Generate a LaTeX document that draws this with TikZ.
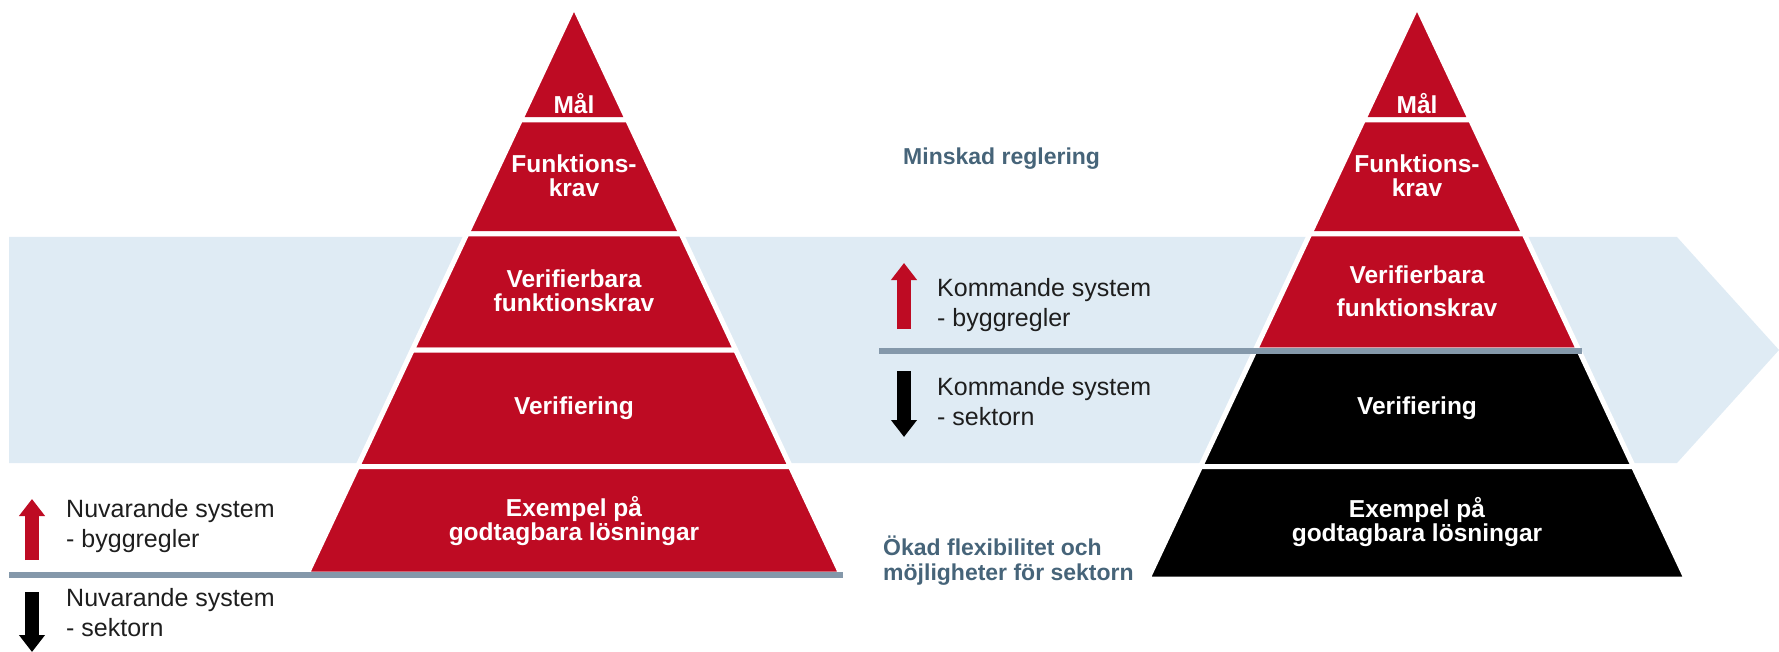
\documentclass[tikz,border=0pt]{standalone}
\usepackage{fontspec}
\setmainfont{Liberation Sans}
\usetikzlibrary{arrows.meta}
\definecolor{sbred}{HTML}{BE0B23}
\definecolor{bandblue}{HTML}{DFEBF4}
\definecolor{linegray}{HTML}{8498AA}
\definecolor{noteblue}{HTML}{466479}
\definecolor{txtgray}{HTML}{1E1E1E}

\begin{document}
\begin{tikzpicture}[x=1pt, y=-1pt,
  redband/.style={fill=sbred, draw=white, line width=5pt, line join=round},
  blackband/.style={fill=black, draw=white, line width=5pt, line join=round},
  grayline/.style={draw=linegray, line width=6pt},
  lvl/.style={text=white, font=\fontsize{24.5}{24}\selectfont\bfseries, align=center, inner sep=0pt},
  legend/.style={text=txtgray, font=\fontsize{25}{30}\selectfont, align=left, inner sep=0pt, anchor=west},
  note/.style={text=noteblue, font=\fontsize{23}{25}\selectfont\bfseries, align=left, inner sep=0pt, anchor=west},
  uparrow/.style={-{Triangle[length=17pt,width=25pt]}, line width=14pt, sbred},
  downarrow/.style={-{Triangle[length=17pt,width=25pt]}, line width=14pt, black}]
  \useasboundingbox (0,0) rectangle (1779,652);

  % Blue band (arrow to the right)
  \fill[bandblue] (9,237) -- (1677,237) -- (1779,350) -- (1677,463) -- (9,463) -- cycle;

  % Left pyramid
  \filldraw[redband] (574,6) -- (627.6,120) -- (520.4,120) -- cycle;                       % Mål
  \filldraw[redband] (520.4,120) -- (627.6,120) -- (681.2,234) -- (466.8,234) -- cycle;   % Funktionskrav
  \filldraw[redband] (466.8,234) -- (681.2,234) -- (735.7,350) -- (412.3,350) -- cycle;   % Verifierbara
  \filldraw[redband] (412.3,350) -- (735.7,350) -- (790.4,466.5) -- (357.6,466.5) -- cycle; % Verifiering
  \filldraw[redband] (357.6,466.5) -- (790.4,466.5) -- (841,574) -- (307,574) -- cycle;   % Exempel

  % Right pyramid
  \filldraw[redband] (1417,6) -- (1470.6,120) -- (1363.4,120) -- cycle;
  \filldraw[redband] (1363.4,120) -- (1470.6,120) -- (1524.2,234) -- (1309.8,234) -- cycle;
  \filldraw[redband] (1309.8,234) -- (1524.2,234) -- (1578.7,350) -- (1255.3,350) -- cycle;
  \filldraw[blackband] (1255.3,350) -- (1578.7,350) -- (1633.4,466.5) -- (1200.6,466.5) -- cycle;
  \filldraw[blackband] (1200.6,466.5) -- (1633.4,466.5) -- (1686.3,579) -- (1147.7,579) -- cycle;

  % Gray lines
  \draw[grayline] (9,575) -- (843,575);
  \draw[grayline] (879,351) -- (1582,351);

  % Arrows
  \coordinate (upL0) at (32,560);
  \coordinate (upL1) at (32,499);
  \coordinate (dnL0) at (32,592);
  \coordinate (dnL1) at (32,652);
  \coordinate (upM0) at (904,329);
  \coordinate (upM1) at (904,263);
  \coordinate (dnM0) at (904,371);
  \coordinate (dnM1) at (904,437);
  \draw[uparrow] (upL0) -- (upL1);
  \draw[downarrow] (dnL0) -- (dnL1);
  \draw[uparrow] (upM0) -- (upM1);
  \draw[downarrow] (dnM0) -- (dnM1);

  % Pyramid labels
  \node[lvl] (malL) at (574,104) {Mål};
  \node[lvl] (funkL) at (574,176) {Funktions-\\krav};
  \node[lvl] (vkravL) at (574,291) {Verifierbara\\funktionskrav};
  \node[lvl] (verL) at (574,408) {Verifiering};
  \node[lvl] (exL) at (574,521) {Exempel på\\godtagbara lösningar};

  \node[lvl] (malR) at (1417,104) {Mål};
  \node[lvl] (funkR) at (1417,176) {Funktions-\\krav};
  \node[lvl, font=\fontsize{24.5}{33}\selectfont\bfseries] (vkravR) at (1417,291) {Verifierbara\\funktionskrav};
  \node[lvl] (verR) at (1417,408) {Verifiering};
  \node[lvl] (exR) at (1417,522) {Exempel på\\godtagbara lösningar};

  % Legend texts
  \node[legend] (nuvUp) at (66,526) {Nuvarande system\\- byggregler};
  \node[legend] (nuvDn) at (66,613) {Nuvarande system\\- sektorn};
  \node[legend] (komUp) at (937,305) {Kommande system\\- byggregler};
  \node[legend] (komDn) at (937,402) {Kommande system\\- sektorn};

  % Notes
  \node[note] (minskad) at (903,159) {Minskad reglering};
  \node[note] (okad) at (883,561) {Ökad flexibilitet och\\möjligheter för sektorn};
\end{tikzpicture}
\end{document}
